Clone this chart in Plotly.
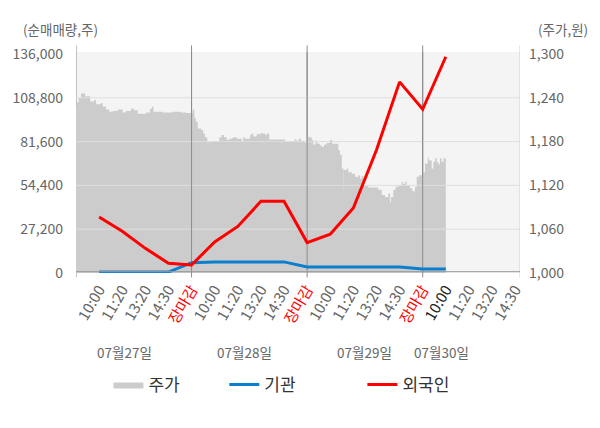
import plotly.graph_objects as go

# x positions are in tick slots: slot 0 = day-1 open, 5/10/15 = 장마감 of each day
tick_text = ["10:00", "11:20", "13:20", "14:30", "장마감",
             "10:00", "11:20", "13:20", "14:30", "장마감",
             "10:00", "11:20", "13:20", "14:30", "장마감",
             "10:00", "11:20", "13:20", "14:30"]
day_labels = ["07월27일", "07월28일", "07월29일", "07월30일"]
day_label_pos = [2.1, 7.3, 12.5, 15.8]

# 주가 (right axis, 원)
price_x = [0.00, 0.04, 0.12, 0.22, 0.40, 0.61, 0.79, 0.87, 1.08, 1.15, 1.30, 1.44, 1.59, 1.80,
           2.02, 2.16, 2.38, 2.52, 2.67, 3.03, 3.20, 3.29, 3.35, 3.75, 4.18, 4.54, 4.76,
           5.05, 5.12, 5.19, 5.27, 5.41, 5.50, 5.58, 5.68, 5.80, 6.20, 6.30, 6.40, 6.52,
           6.63, 6.74, 6.81, 6.95, 7.17, 7.24, 7.31, 7.53, 7.60, 7.67, 7.82, 7.96, 8.18,
           8.25, 8.36, 9.04, 9.45, 9.55, 9.64, 9.74, 9.87, 9.98, 10.05, 10.20, 10.27,
           10.37, 10.44, 10.56, 10.63, 10.73, 10.85, 10.99, 11.09, 11.35, 11.42, 11.50,
           11.57, 11.58, 11.71, 11.78, 11.93, 12.07, 12.22, 12.29, 12.36, 12.43, 12.65,
           13.08, 13.23, 13.37, 13.51, 13.59, 13.63, 13.73, 13.83, 13.95, 14.09, 14.16,
           14.24, 14.31, 14.45, 14.55, 14.67, 14.74, 14.84, 15.00, 15.10, 15.22, 15.27,
           15.39, 15.46, 15.53, 15.61, 15.68, 15.75, 15.82, 15.90, 16.00]
price = [1227, 1234, 1240, 1246, 1242, 1235, 1237, 1231, 1233, 1228, 1224, 1221, 1222, 1224,
         1220, 1222, 1225, 1223, 1218, 1220, 1225, 1228, 1221, 1220, 1221, 1220, 1219,
         1224, 1212, 1207, 1198, 1196, 1191, 1186, 1179, 1180, 1186, 1189, 1186, 1182,
         1184, 1185, 1186, 1184, 1181, 1186, 1184, 1189, 1191, 1187, 1190, 1191, 1189,
         1191, 1183, 1180, 1183, 1181, 1184, 1181, 1179, 1187, 1186, 1182, 1176,
         1181, 1177, 1175, 1173, 1176, 1178, 1182, 1177, 1168, 1162, 1143,
         1114, 1141, 1143, 1138, 1136, 1132, 1134, 1129, 1133, 1120, 1117,
         1114, 1107, 1104, 1109, 1097, 1104, 1114, 1118, 1120, 1125, 1122,
         1125, 1120, 1116, 1112, 1118, 1132, 1134, 1138, 1150, 1158, 1154,
         1143, 1152, 1157, 1152, 1149, 1157, 1152, 1157, 1157]

# 순매매량 (left axis, 주)
flow_x = list(range(1, 17))
institution = [600, 600, 600, 600, 6400, 6900, 6900, 6900, 6900, 3700, 3700, 3700, 3700, 3700, 2500, 2500]
foreign = [34800, 25900, 15300, 6100, 5000, 19300, 28900, 44500, 44500, 18900, 24100, 40400,
           76400, 118700, 101700, 134300]

left_ticks = [0, 27200, 54400, 81600, 108800, 136000]
right_ticks = [1000, 1060, 1120, 1180, 1240, 1300]
day_breaks = [5, 10, 15]

x_max = 19.21
font = "Noto Sans CJK KR"
gray = "#666666"

tick_labels = []
for i, t in enumerate(tick_text):
    if t == "장마감":
        tick_labels.append('<span style="color:#ff0000">' + t + '</span>')
    elif i == 15:
        tick_labels.append('<span style="color:#222222">' + t + '</span>')
    else:
        tick_labels.append(t)

fig = go.Figure()

fig.add_trace(go.Scatter(x=price_x, y=price, name="주가", mode="lines", line=dict(width=0, shape="hv"),
                         fill="tozeroy", fillcolor="#cccccc", yaxis="y", legend="legend"))

# grid drawn over the price area but under the flow lines
gx, gy = [], []
for v in right_ticks[1:-1]:
    gx += [0, x_max, None]
    gy += [v, v, None]
fig.add_trace(go.Scatter(x=gx, y=gy, mode="lines", line=dict(color="#dedede", width=1),
                         showlegend=False, hoverinfo="skip", yaxis="y"))
vx, vy = [], []
for d in day_breaks:
    vx += [d, d, None]
    vy += [right_ticks[0], right_ticks[-1] + 10, None]
fig.add_trace(go.Scatter(x=vx, y=vy, mode="lines", line=dict(color="#8c8c8c", width=1),
                         showlegend=False, hoverinfo="skip", yaxis="y"))

fig.add_trace(go.Scatter(x=flow_x, y=institution, name="기관", mode="lines",
                         line=dict(color="#0a7fce", width=3), yaxis="y2", legend="legend2"))
fig.add_trace(go.Scatter(x=flow_x, y=foreign, name="외국인", mode="lines",
                         line=dict(color="#ff0000", width=3), yaxis="y2", legend="legend3"))

shapes = []
for d in [0] + day_breaks:
    shapes.append(dict(type="line", xref="x", yref="paper", x0=d, x1=d, y0=-0.02, y1=1.03,
                       line=dict(color="#8c8c8c", width=1), layer="below"))
shapes.append(dict(type="line", xref="x", yref="paper", x0=x_max, x1=x_max, y0=-0.02, y1=1.03,
                   line=dict(color="#d0d0d0", width=1), layer="below"))
shapes.append(dict(type="line", xref="paper", yref="paper", x0=0, x1=1, y0=0.006, y1=0.006,
                   line=dict(color="#999999", width=1), layer="above"))

annotations = [
    dict(text="(순매매량,주)", xref="paper", yref="paper", x=0.054, y=1.104, xanchor="right",
         yanchor="middle", showarrow=False, font=dict(size=13.5, color=gray)),
    dict(text="(주가,원)", xref="paper", yref="paper", x=1.158, y=1.104, xanchor="right",
         yanchor="middle", showarrow=False, font=dict(size=13.5, color=gray)),
]
for lab, pos in zip(day_labels, day_label_pos):
    annotations.append(dict(text=lab, xref="x", yref="paper", x=pos, y=-0.357, xanchor="center",
                            yanchor="middle", showarrow=False, font=dict(size=13.5, color=gray)))

legend_style = dict(orientation="h", y=-0.507, xanchor="left", yanchor="middle",
                    font=dict(size=17, color="#333333"), bgcolor="rgba(0,0,0,0)")

# the page body adds an 8px margin, so the figure is sized to fit inside the window
fig.update_layout(
    width=592,
    height=420,
    margin=dict(l=68, r=80, t=44, b=155, autoexpand=False),
    paper_bgcolor="white",
    plot_bgcolor="#f4f4f4",
    font=dict(family=font, size=14, color=gray),
    showlegend=True,
    legend=dict(x=0.073, **legend_style),
    legend2=dict(x=0.334, **legend_style),
    legend3=dict(x=0.645, **legend_style),
    xaxis=dict(range=[0, x_max], tickmode="array", tickvals=list(range(1, 20)), ticktext=tick_labels,
               tickangle=-60, showgrid=False, zeroline=False, showline=False, ticks="",
               ticklabelstandoff=4, tickfont=dict(size=15, color=gray), fixedrange=True,
               automargin=False),
    yaxis=dict(side="right", range=[1000, 1302.7], tickmode="array", tickvals=right_ticks,
               tickformat=",d", showgrid=False, zeroline=False, showline=False, ticks="",
               ticklabelstandoff=8, tickfont=dict(size=14, color=gray), automargin=False),
    yaxis2=dict(side="left", overlaying="y", range=[0, 137242], tickmode="array", tickvals=left_ticks,
                tickformat=",d", showgrid=False, zeroline=False, showline=False, ticks="",
                ticklabelstandoff=12, tickfont=dict(size=14, color=gray), automargin=False),
    shapes=shapes,
    annotations=annotations,
)

fig.write_html("out.html")
